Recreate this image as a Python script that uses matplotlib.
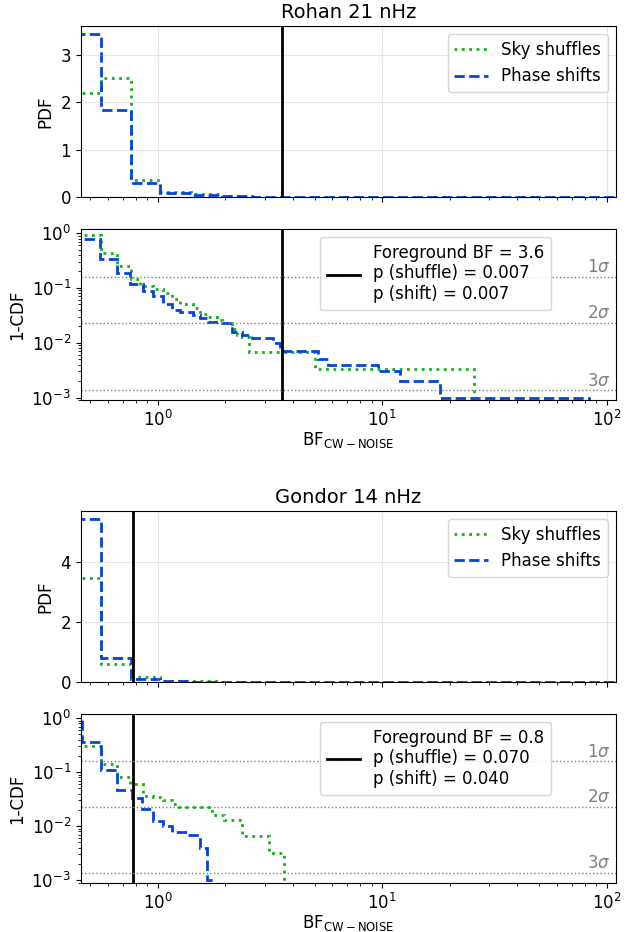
import numpy as np
import matplotlib
matplotlib.use("Agg")
import matplotlib.pyplot as plt
import matplotlib.transforms as mtransforms

# ---- data ----
titles = ["Rohan 21 nHz", "Gondor 14 nHz"]
fg_bf = [3.6, 0.78]
p_shuffle = [0.007, 0.070]
p_shift = [0.007, 0.040]

# PDF histograms (shared log-ish bin edges)
pdf_edges = [0.37, 0.56, 0.76, 1.03, 1.41, 1.93, 2.63, 3.6, 4.9, 6.7, 9.2,
             12.5, 17.1, 23.4, 32.0, 43.6, 59.6, 81.4, 111.0]
rohan_pdf_sky = [2.19, 2.52, 0.35, 0.11, 0.057, 0.02, 0.006, 0.003, 0.002, 0.001,
                 0.0005, 0.0003, 0.0002, 0.0001, 0.0, 0.0, 0.0, 0.0]
rohan_pdf_phase = [3.44, 1.84, 0.30, 0.085, 0.036, 0.012, 0.004, 0.002, 0.001,
                   0.0005, 0.0003, 0.0002, 0.0001, 0.0001, 0.0, 0.0, 0.0, 0.0]
gondor_pdf_sky = [3.45, 0.59, 0.17, 0.02, 0.006, 0.002, 0.0, 0.0, 0.0, 0.0,
                  0.0, 0.0, 0.0, 0.0, 0.0, 0.0, 0.0, 0.0]
gondor_pdf_phase = [5.42, 0.78, 0.09, 0.01, 0.002, 0.0, 0.0, 0.0, 0.0, 0.0,
                    0.0, 0.0, 0.0, 0.0, 0.0, 0.0, 0.0, 0.0]

# 1-CDF step functions: edges and survival values
rohan_cdf_sky_x = [0.30, 0.56, 0.658, 0.762, 0.836, 0.958, 1.06, 1.156, 1.26,
                   1.44, 1.546, 1.68, 1.835, 1.93, 2.14, 2.25, 2.37, 2.56,
                   5.03, 25.7, 27.0]
rohan_cdf_sky_y = [0.93, 0.433, 0.251, 0.148, 0.107, 0.095, 0.082, 0.062,
                   0.052, 0.043, 0.033, 0.030, 0.026, 0.0225, 0.018, 0.014,
                   0.013, 0.0068, 0.0033, 0.0]
rohan_cdf_phase_x = [0.30, 0.554, 0.658, 0.754, 0.865, 0.958, 1.06, 1.156,
                     1.26, 1.44, 1.55, 1.68, 1.93, 2.14, 2.37, 2.63, 3.28,
                     3.51, 5.2, 5.77, 9.63, 12.0, 18.1, 83.0, 85.0]
rohan_cdf_phase_y = [0.79, 0.333, 0.187, 0.117, 0.088, 0.072, 0.050, 0.040,
                     0.037, 0.032, 0.028, 0.024, 0.023, 0.016, 0.014, 0.012,
                     0.010, 0.007, 0.005, 0.004, 0.003, 0.002, 0.001, 0.0]
gondor_cdf_sky_x = [0.30, 0.56, 0.658, 0.754, 0.86, 0.958, 1.06, 1.156, 1.24,
                    1.74, 1.97, 2.37, 3.15, 3.66, 3.8]
gondor_cdf_sky_y = [0.30, 0.144, 0.082, 0.060, 0.036, 0.034, 0.031, 0.0257,
                    0.023, 0.0162, 0.0133, 0.0066, 0.0032, 0.0]
gondor_cdf_phase_x = [0.30, 0.46, 0.56, 0.658, 0.768, 0.85, 0.958, 1.06, 1.156,
                      1.35, 1.546, 1.66, 1.77, 1.85]
gondor_cdf_phase_y = [1.0, 0.369, 0.112, 0.047, 0.033, 0.021, 0.0127, 0.0102,
                      0.0078, 0.0068, 0.0039, 0.00102, 0.0]

sigma_levels = [0.1587, 0.02275, 0.00135]
sigma_names = [r"1$\sigma$", r"2$\sigma$", r"3$\sigma$"]

c_sky = "#15b01a"
c_phase = "#0343df"

plt.rcParams["font.size"] = 12

fig = plt.figure(figsize=(6.36, 9.32), dpi=100)

left, width = 0.1269, 0.8417
pos = [
    (0.7886, 0.1835),
    (0.5708, 0.1832),
    (0.2686, 0.1832),
    (0.0529, 0.1807),
]

pdf_sets = [(rohan_pdf_sky, rohan_pdf_phase), (gondor_pdf_sky, gondor_pdf_phase)]
cdf_sets = [
    (rohan_cdf_sky_x, rohan_cdf_sky_y, rohan_cdf_phase_x, rohan_cdf_phase_y),
    (gondor_cdf_sky_x, gondor_cdf_sky_y, gondor_cdf_phase_x, gondor_cdf_phase_y),
]

xlim = (0.455, 110)

for i in range(2):
    ax_p = fig.add_axes([left, pos[2 * i][0], width, pos[2 * i][1]])
    ax_c = fig.add_axes([left, pos[2 * i + 1][0], width, pos[2 * i + 1][1]])

    # --- PDF ---
    sky, phase = pdf_sets[i]
    ax_p.stairs(sky, pdf_edges, color=c_sky, ls=":", lw=2, label="Sky shuffles")
    ax_p.stairs(phase, pdf_edges, color=c_phase, ls="--", lw=2, label="Phase shifts")
    ax_p.axvline(fg_bf[i], color="k", lw=2)
    ax_p.set_xscale("log")
    ax_p.set_xlim(*xlim)
    ax_p.set_ylim(0, max(max(sky), max(phase)) * 1.05)
    ax_p.grid(alpha=0.3)
    ax_p.tick_params(labelbottom=False)
    ax_p.set_ylabel("PDF")
    ax_p.set_title(titles[i], fontsize=14)
    ax_p.legend(loc="upper right")

    # --- 1-CDF ---
    sx, sy, px, py = cdf_sets[i]
    ax_c.stairs(np.clip(sy, 1e-9, None), sx, baseline=None, color=c_sky, ls=":", lw=2)
    ax_c.stairs(np.clip(py, 1e-9, None), px, baseline=None, color=c_phase, ls="--", lw=2)
    fg_line = ax_c.axvline(fg_bf[i], color="k", lw=2)
    ax_c.set_xscale("log")
    ax_c.set_yscale("log")
    ax_c.set_xlim(*xlim)
    ax_c.set_ylim(9e-4, 1.18)

    trans = mtransforms.blended_transform_factory(ax_c.transAxes, ax_c.transData)
    for lev, name in zip(sigma_levels, sigma_names):
        ax_c.axhline(lev, color="gray", ls=":", lw=1)
        ax_c.text(0.99, lev * 1.03, name, color="gray", ha="right", va="bottom",
                  transform=trans, fontsize=12)

    label = (f"Foreground BF = {fg_bf[i]:.1f}\n"
             f"p (shuffle) = {p_shuffle[i]:.3f}\n"
             f"p (shift) = {p_shift[i]:.3f}")
    ax_c.legend([fg_line], [label], loc="upper left",
                bbox_to_anchor=(0.447, 0.955), borderaxespad=0)
    ax_c.set_ylabel("1-CDF")
    ax_c.set_xlabel(r"BF$_{\rm CW-NOISE}$", labelpad=0)

fig.savefig("out.png", dpi=100)
